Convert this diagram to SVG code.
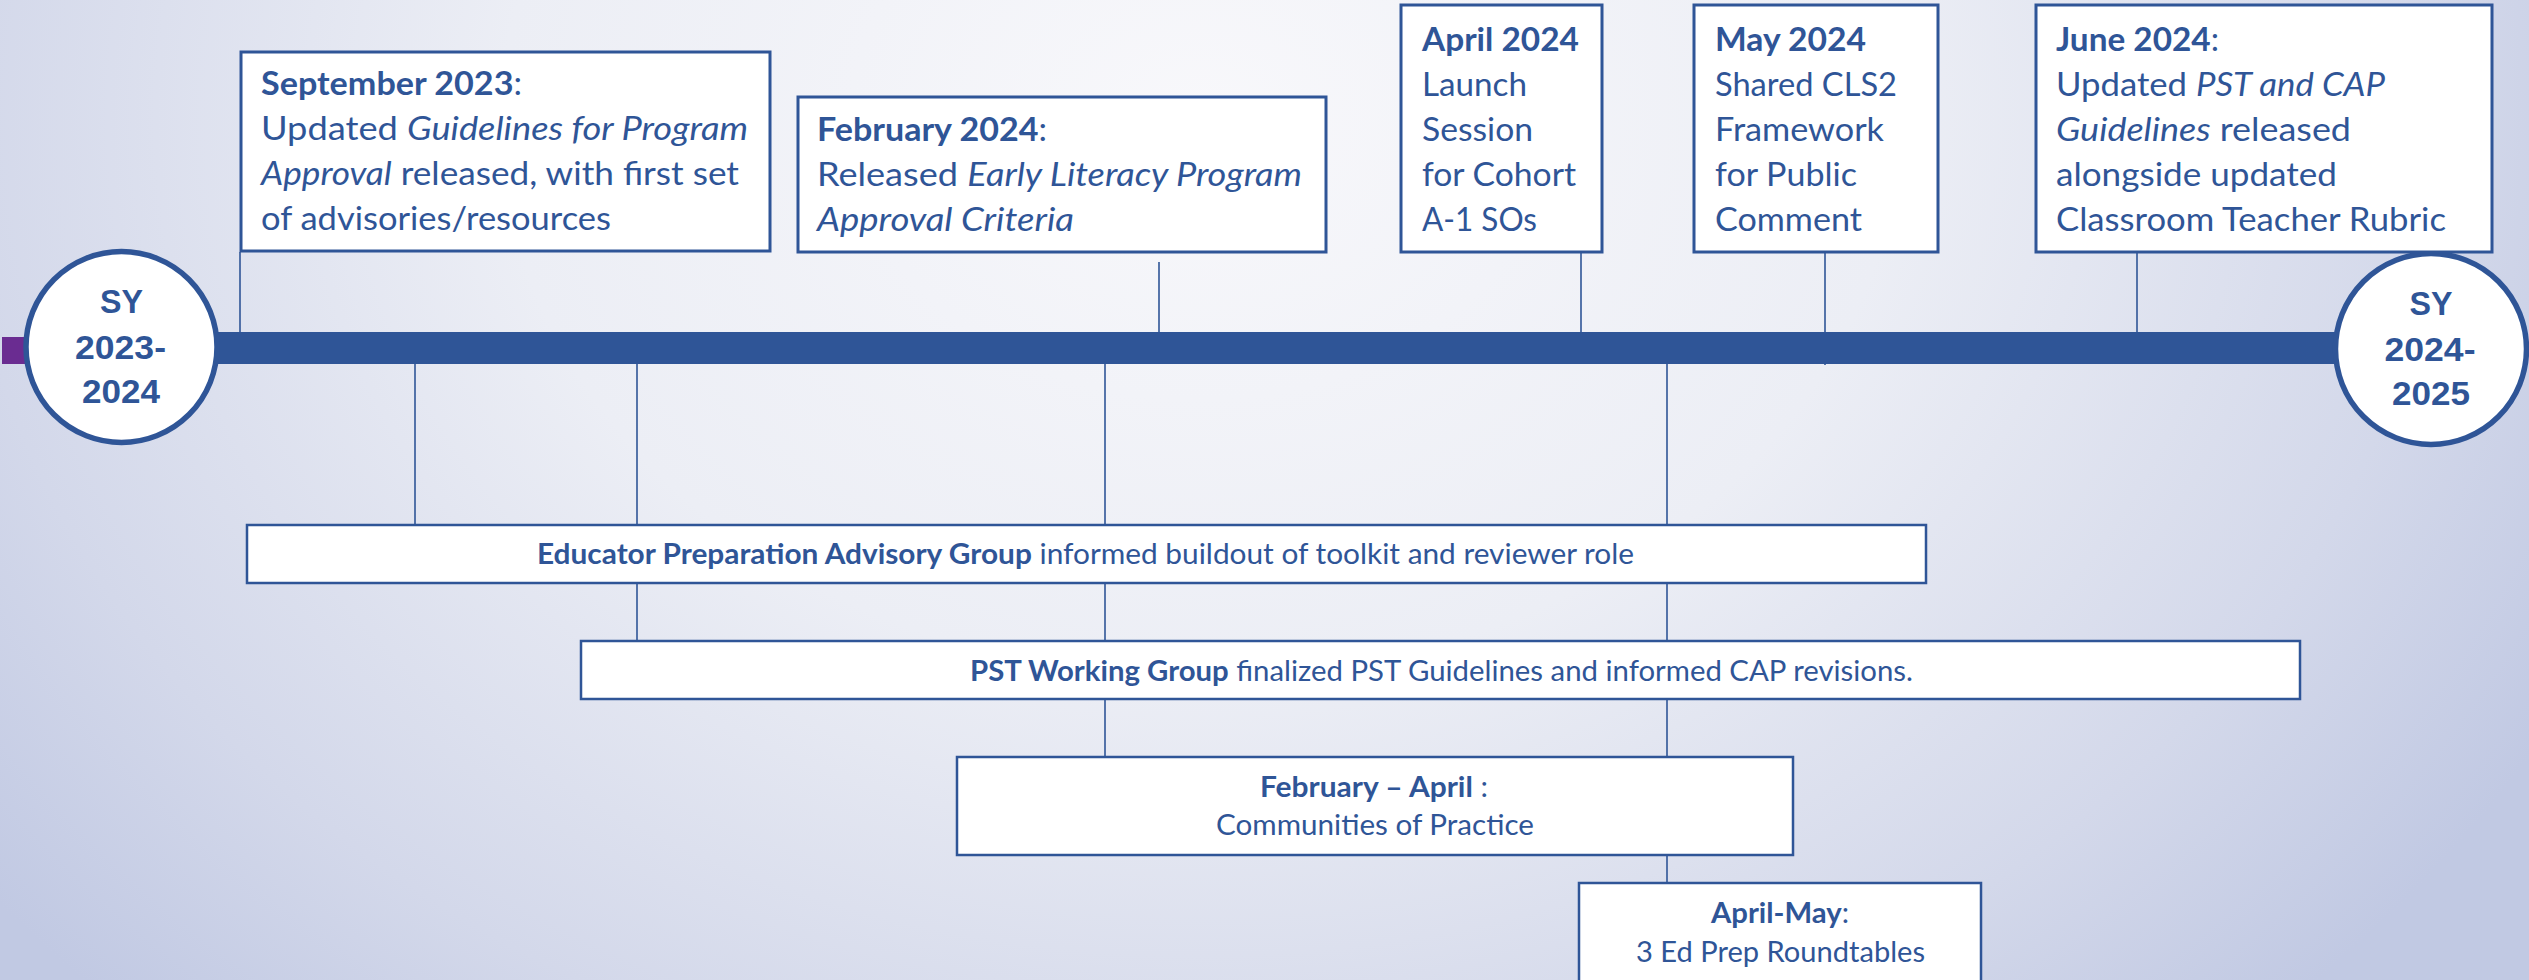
<svg xmlns="http://www.w3.org/2000/svg" width="2529" height="980" viewBox="0 0 2529 980">
<defs>
<radialGradient id="bg" gradientUnits="userSpaceOnUse" cx="1200" cy="120" r="1550" gradientTransform="translate(1200 120) scale(1 0.8) translate(-1200 -120)">
<stop offset="0" stop-color="#f8f8fb"/>
<stop offset="0.45" stop-color="#eceef5"/>
<stop offset="0.8" stop-color="#d3d8ea"/>
<stop offset="1" stop-color="#c1c9e3"/>
</radialGradient>
<style>
.box{fill:#ffffff;stroke:#2F5597;stroke-width:3}
.box2{fill:#ffffff;stroke:#2F5597;stroke-width:2.5}
.t{font-family:Lato,"Open Sans","Liberation Sans",sans-serif;font-size:32px;fill:#2F5597}
.s{font-family:Lato,"Open Sans","Liberation Sans",sans-serif;font-size:28px;fill:#2F5597}
.b{font-weight:bold}
.i{font-style:italic}
.c{font-family:"Liberation Sans",Arial,sans-serif;font-weight:bold;font-size:33px;fill:#2F5597;text-anchor:middle}
.ln{stroke:#2F5597;stroke-width:1.6;fill:none}
.yr{fill:#ffffff;stroke:#2F5597;stroke-width:5.5}
</style>
</defs>
<rect x="0" y="0" width="2529" height="980" fill="url(#bg)"/>

<g id="connectors">
<line class="ln" x1="240" y1="252" x2="240" y2="333"/>
<line class="ln" x1="1159" y1="262" x2="1159" y2="333"/>
<line class="ln" x1="1581" y1="252" x2="1581" y2="333"/>
<line class="ln" x1="1825" y1="252" x2="1825" y2="365"/>
<line class="ln" x1="2137" y1="252" x2="2137" y2="333"/>
<line class="ln" x1="415" y1="363" x2="415" y2="525"/>
<line class="ln" x1="637" y1="363" x2="637" y2="641"/>
<line class="ln" x1="1105" y1="363" x2="1105" y2="757"/>
<line class="ln" x1="1667" y1="363" x2="1667" y2="883"/>
</g>

<g id="timeline">
<rect x="2" y="337" width="24" height="27" fill="#6A2C91"/>
<rect x="110" y="332" width="2320" height="32" fill="#2F5597"/>
</g>

<g id="sy-2023">
<circle class="yr" cx="121.5" cy="347" r="95.5"/>
<text class="c" x="121.5" y="313" textLength="43" lengthAdjust="spacingAndGlyphs">SY</text>
<text class="c" x="120.5" y="359" textLength="91" lengthAdjust="spacingAndGlyphs">2023-</text>
<text class="c" x="121" y="403" textLength="78" lengthAdjust="spacingAndGlyphs">2024</text>
</g>

<g id="sy-2024">
<circle class="yr" cx="2431" cy="349" r="95.5"/>
<text class="c" x="2431" y="315" textLength="43" lengthAdjust="spacingAndGlyphs">SY</text>
<text class="c" x="2430" y="361" textLength="91" lengthAdjust="spacingAndGlyphs">2024-</text>
<text class="c" x="2431" y="405" textLength="78" lengthAdjust="spacingAndGlyphs">2025</text>
</g>

<g id="sep-2023">
<rect class="box" x="241" y="52" width="529" height="199"/>
<text class="t" x="261" y="95" textLength="261" lengthAdjust="spacingAndGlyphs"><tspan class="b">September 2023</tspan>:</text>
<text class="t" x="261" y="140" textLength="487" lengthAdjust="spacingAndGlyphs">Updated <tspan class="i">Guidelines for Program</tspan></text>
<text class="t" x="261" y="185" textLength="478" lengthAdjust="spacingAndGlyphs"><tspan class="i">Approval</tspan> released, with first set</text>
<text class="t" x="261" y="230" textLength="350" lengthAdjust="spacingAndGlyphs">of advisories/resources</text>
</g>

<g id="feb-2024">
<rect class="box" x="798" y="97" width="528" height="155"/>
<text class="t" x="817" y="141" textLength="230" lengthAdjust="spacingAndGlyphs"><tspan class="b">February 2024</tspan>:</text>
<text class="t" x="817" y="186" textLength="485" lengthAdjust="spacingAndGlyphs">Released <tspan class="i">Early Literacy Program</tspan></text>
<text class="t" x="817" y="231" textLength="257" lengthAdjust="spacingAndGlyphs"><tspan class="i">Approval Criteria</tspan></text>
</g>

<g id="apr-2024">
<rect class="box" x="1401" y="5" width="201" height="247"/>
<text class="t b" x="1422" y="51" textLength="157" lengthAdjust="spacingAndGlyphs">April 2024</text>
<text class="t" x="1422" y="96" textLength="105" lengthAdjust="spacingAndGlyphs">Launch</text>
<text class="t" x="1422" y="141" textLength="111" lengthAdjust="spacingAndGlyphs">Session</text>
<text class="t" x="1422" y="186" textLength="154" lengthAdjust="spacingAndGlyphs">for Cohort</text>
<text class="t" x="1422" y="231" textLength="115" lengthAdjust="spacingAndGlyphs">A-1 SOs</text>
</g>

<g id="may-2024">
<rect class="box" x="1694" y="5" width="244" height="247"/>
<text class="t b" x="1715" y="51" textLength="151" lengthAdjust="spacingAndGlyphs">May 2024</text>
<text class="t" x="1715" y="96" textLength="182" lengthAdjust="spacingAndGlyphs">Shared CLS2</text>
<text class="t" x="1715" y="141" textLength="169" lengthAdjust="spacingAndGlyphs">Framework</text>
<text class="t" x="1715" y="186" textLength="142" lengthAdjust="spacingAndGlyphs">for Public</text>
<text class="t" x="1715" y="231" textLength="147" lengthAdjust="spacingAndGlyphs">Comment</text>
</g>

<g id="jun-2024">
<rect class="box" x="2036" y="5" width="456" height="247"/>
<text class="t" x="2056" y="51" textLength="163" lengthAdjust="spacingAndGlyphs"><tspan class="b">June 2024</tspan>:</text>
<text class="t" x="2056" y="96" textLength="329" lengthAdjust="spacingAndGlyphs">Updated <tspan class="i">PST and CAP</tspan></text>
<text class="t" x="2056" y="141" textLength="295" lengthAdjust="spacingAndGlyphs"><tspan class="i">Guidelines</tspan> released</text>
<text class="t" x="2056" y="186" textLength="281" lengthAdjust="spacingAndGlyphs">alongside updated</text>
<text class="t" x="2056" y="231" textLength="390" lengthAdjust="spacingAndGlyphs">Classroom Teacher Rubric</text>
</g>

<g id="epag">
<rect class="box2" x="247" y="525" width="1679" height="58"/>
<text class="s" x="537" y="564" textLength="1097" lengthAdjust="spacingAndGlyphs"><tspan class="b">Educator Preparation Advisory Group</tspan> informed buildout of toolkit and reviewer role</text>
</g>

<g id="pst-wg">
<rect class="box2" x="581" y="641" width="1719" height="58"/>
<text class="s" x="970" y="681" textLength="943" lengthAdjust="spacingAndGlyphs"><tspan class="b">PST Working Group</tspan> finalized PST Guidelines and informed CAP revisions.</text>
</g>

<g id="cop">
<rect class="box2" x="957" y="757" width="836" height="98"/>
<text class="s" x="1260" y="797" textLength="228" lengthAdjust="spacingAndGlyphs"><tspan class="b">February – April</tspan> :</text>
<text class="s" x="1216" y="835" textLength="318" lengthAdjust="spacingAndGlyphs">Communities of Practice</text>
</g>

<g id="roundtables">
<rect class="box2" x="1579" y="883" width="402" height="130"/>
<text class="s" x="1711" y="923" textLength="138" lengthAdjust="spacingAndGlyphs"><tspan class="b">April-May</tspan>:</text>
<text class="s" x="1636" y="962" textLength="289" lengthAdjust="spacingAndGlyphs">3 Ed Prep Roundtables</text>
</g>
</svg>
